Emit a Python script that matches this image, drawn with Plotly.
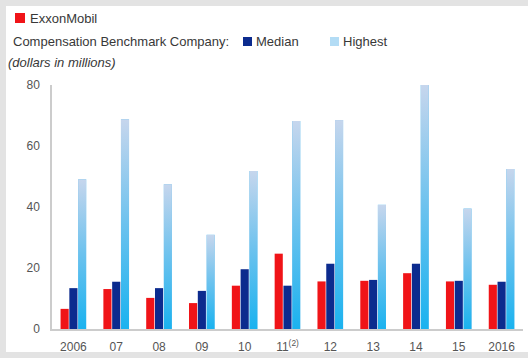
import base64
import plotly.graph_objects as go

# ---- data ----
categories = ["2006", "07", "08", "09", "10", "11<sup>(2)</sup>", "12", "13", "14", "15", "2016"]
exxon = [6.6, 13.1, 10.2, 8.5, 14.2, 24.7, 15.6, 15.8, 18.3, 15.6, 14.5]
median = [13.4, 15.5, 13.4, 12.5, 19.6, 14.2, 21.4, 16.1, 21.4, 15.8, 15.5]
highest = [49.1, 68.8, 47.5, 30.9, 51.8, 68.2, 68.5, 40.7, 80.0, 39.5, 52.5]
y_ticks = [0, 20, 40, 60, 80]

# ---- style ----
W, H = 528, 358
L, R, T, B = 52, 5, 85, 29
PW, PH = W - L - R, H - T - B
RED = "#f01418"
DARK = "#0c2b8e"
FONT = "Liberation Sans, Arial, sans-serif"
BAR_W = 0.19
OFFS = [-0.30, -0.095, 0.11]


def px(x):
    return (x - L) / PW


def py(y):
    return (H - B - y) / PH


xs = list(range(len(categories)))

fig = go.Figure()
for vals, col, name, off in [(exxon, RED, "ExxonMobil", OFFS[0]),
                             (median, DARK, "Median", OFFS[1]),
                             (highest, "#6fc2ee", "Highest", OFFS[2])]:
    fig.add_trace(go.Bar(x=xs, y=vals, name=name, marker=dict(color=col, line=dict(width=0)),
                         width=BAR_W, offset=off, showlegend=False))

svg = ('<svg xmlns="http://www.w3.org/2000/svg" width="10" height="100" viewBox="0 0 10 100" '
       'preserveAspectRatio="none"><defs><linearGradient id="g" x1="0" y1="0" x2="0" y2="1">'
       '<stop offset="0" stop-color="#c6d6ed"/><stop offset="0.5" stop-color="#6cc2ee"/>'
       '<stop offset="1" stop-color="#1ab2ef"/>'
       '</linearGradient></defs><rect width="10" height="100" fill="url(#g)"/></svg>')
src = "data:image/svg+xml;base64," + base64.b64encode(svg.encode()).decode()
images = []
for xi, v in zip(xs, highest):
    images.append(dict(source=src, xref="x", yref="y", x=xi + OFFS[2], y=v, sizex=BAR_W, sizey=v,
                       sizing="stretch", xanchor="left", yanchor="top", layer="above"))

shapes = [
    dict(type="rect", xref="paper", yref="paper", x0=px(6), x1=px(530), y0=py(352), y1=py(6),
         fillcolor="white", line=dict(width=0), layer="below"),
    dict(type="rect", xref="paper", yref="paper", x0=px(15), x1=px(25), y0=py(23), y1=py(13),
         fillcolor=RED, line=dict(width=0)),
    dict(type="rect", xref="paper", yref="paper", x0=px(243), x1=px(252), y0=py(46), y1=py(37),
         fillcolor=DARK, line=dict(width=0)),
    dict(type="rect", xref="paper", yref="paper", x0=px(330), x1=px(339), y0=py(46), y1=py(37),
         fillcolor="#b3dcf5", line=dict(width=0)),
]

TXT = dict(color="#383838", size=13, family=FONT)
annotations = []
for text, x, y in [("ExxonMobil", 28, 18), ("Compensation Benchmark Company:", 11, 41),
                   ("Median", 254, 41), ("Highest", 341, 41), ("<i>(dollars in millions)</i>", 6, 62)]:
    annotations.append(dict(text=text, xref="paper", yref="paper", x=px(x), y=py(y),
                            xanchor="left", yanchor="middle", showarrow=False, font=TXT))

fig.update_layout(
    width=W, height=H, margin=dict(l=L, r=R, t=T, b=B),
    paper_bgcolor="#e3e3e3", plot_bgcolor="rgba(0,0,0,0)",
    barmode="overlay", shapes=shapes, annotations=annotations, images=images,
    font=dict(family=FONT, color="#555555", size=12),
)
fig.update_xaxes(range=[-0.5, len(categories) - 0.5], tickvals=xs, ticktext=categories,
                 showline=True, linecolor="#cccccc", linewidth=1.5, showgrid=False, zeroline=False,
                 ticks="", ticklabelstandoff=6, tickfont=dict(size=12, color="#555555"))
fig.update_yaxes(range=[0, 80], tickvals=y_ticks, showline=True, linecolor="#cccccc", linewidth=1.5,
                 showgrid=False, zeroline=False, ticks="", ticklabelstandoff=8,
                 tickfont=dict(size=12, color="#555555"))

fig.write_html("out.html")
